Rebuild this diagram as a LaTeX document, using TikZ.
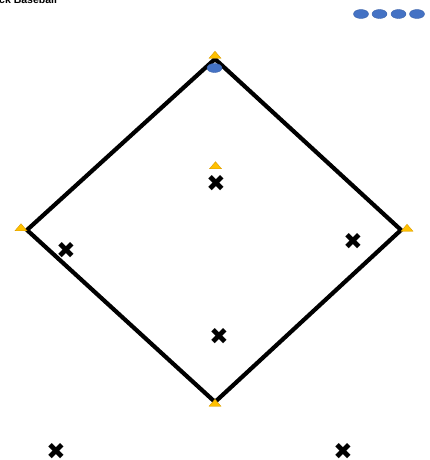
\documentclass[tikz,border=0pt]{standalone}
\usepackage{fontspec}
\setmainfont{Liberation Sans}
\newfontfamily\symfont{DejaVu Sans}
\usepackage{tikz}
\usetikzlibrary{shapes.geometric}
\definecolor{basefill}{HTML}{FFC000}
\definecolor{baseline}{HTML}{D99A00}
\definecolor{runfill}{HTML}{4472C4}
\definecolor{runline}{HTML}{3A62AA}
\tikzset{
  field/.style={line width=4.2pt, line join=miter, draw=black},
  bag/.style={isosceles triangle, isosceles triangle stretches, shape border rotate=90,
              minimum width=12pt, minimum height=7pt, inner sep=0pt, fill=basefill, draw=baseline, line width=0.4pt},
  runner/.style={ellipse, minimum width=15pt, minimum height=9pt, inner sep=0pt, fill=runfill, draw=runline, line width=0.4pt},
  fielder/.style={inner sep=0pt, font=\symfont\fontsize{23}{23}\selectfont},
  title/.style={anchor=base west, inner sep=0pt, font=\bfseries\fontsize{10.5}{12}\selectfont},
}
\begin{document}
\begin{tikzpicture}[x=1pt,y=-1pt]
  \useasboundingbox (0,0) rectangle (429,460);
  \node[title] (name) at (-1,3.5) {ck Baseball};
  % Diamond
  \coordinate (home) at (215,402);
  \coordinate (first) at (401,230);
  \coordinate (second) at (215,59);
  \coordinate (third) at (27,230);
  \draw[field] (home) -- (first) -- (second) -- (third) -- cycle;
  % Bases
  \node[bag] (bhome) at (215,403.5) {};
  \node[bag] (bfirst) at (407,228.5) {};
  \node[bag] (bsecond) at (215,55.5) {};
  \node[bag] (bthird) at (21,228) {};
  \node[bag] (mound) at (215.5,166) {};
  % Runners
  \node[runner] (onsecond) at (214.5,68) {};
  \foreach \x/\n in {361/w1,379.5/w2,398.5/w3,417/w4}
    \node[runner] (\n) at (\x,14) {};
  % Fielders
  \node[fielder] (pitcher) at (216,183) {✖};
  \node[fielder] (thirdman) at (66,250) {✖};
  \node[fielder] (firstman) at (353,241) {✖};
  \node[fielder] (catcher) at (219,336) {✖};
  \node[fielder] (leftfield) at (56,451) {✖};
  \node[fielder] (rightfield) at (343,451) {✖};
\end{tikzpicture}
\end{document}
